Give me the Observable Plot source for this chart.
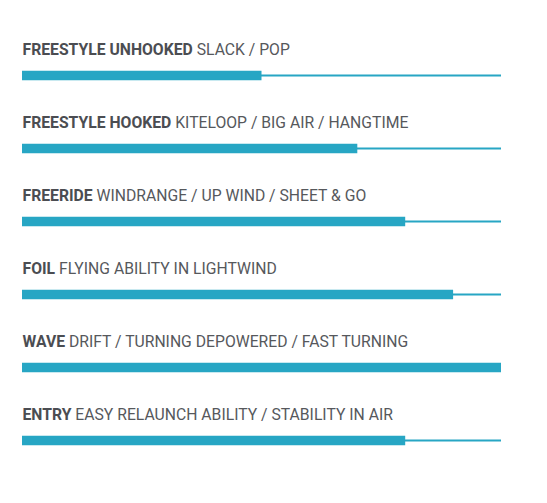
<!DOCTYPE html>
<html>
<head>
<meta charset="utf-8">
<script src="https://cdn.jsdelivr.net/npm/d3@7"></script>
<script src="https://cdn.jsdelivr.net/npm/@observablehq/plot@0.6"></script>
<style>
  html, body { margin: 0; padding: 0; background: #fff; }
  #chart svg { display: block; }
</style>
</head>
<body>
<div id="chart"></div>
<script>
const categories = ["FREESTYLE UNHOOKED", "FREESTYLE HOOKED", "FREERIDE", "FOIL", "WAVE", "ENTRY"];
const descriptors = [
  "SLACK / POP",
  "KITELOOP / BIG AIR / HANGTIME",
  "WINDRANGE / UP WIND / SHEET & GO",
  "FLYING ABILITY IN LIGHTWIND",
  "DRIFT / TURNING DEPOWERED / FAST TURNING",
  "EASY RELAUNCH ABILITY / STABILITY IN AIR"
];
const ratings = [5, 7, 8, 9, 10, 8];
const maxRating = 10;

const data = categories.map((name, i) => ({name, desc: descriptors[i], value: ratings[i]}));

const teal = "#27a6c4";
const compress = 0.925;
const fontSize = 17;

const chart = Plot.plot({
  width: 547,
  height: 503,
  marginLeft: 22,
  marginRight: 46,
  marginTop: 72.5,
  marginBottom: 61.5,
  style: {fontFamily: "Roboto, sans-serif", background: "#fff"},
  x: {domain: [0, maxRating], axis: null},
  y: {type: "point", domain: categories, padding: 0, axis: null},
  marks: [
    Plot.ruleY(data, {y: "name", x1: 0, x2: maxRating, stroke: teal, strokeWidth: 2}),
    Plot.ruleY(data, {y: "name", x1: 0, x2: "value", stroke: teal, strokeWidth: 9.5, strokeLinecap: "butt"}),
    Plot.text(data, {
      y: "name", x: 0, text: "name", dy: -26, textAnchor: "start",
      fontSize: fontSize, fontWeight: "bold", fill: "#4b4d52", className: "label"
    })
  ]
});

document.getElementById("chart").appendChild(chart);

// condense the bold category and add the descriptor, in normal weight, right after it
const space = 0.25 * fontSize * compress;
d3.select(chart).selectAll("g.label text").each(function(d, i) {
  const len = this.getComputedTextLength();
  this.setAttribute("textLength", len * compress);
  this.setAttribute("lengthAdjust", "spacingAndGlyphs");
  const x0 = +this.getAttribute("x") || 0;
  const t2 = this.cloneNode(false);
  t2.setAttribute("font-weight", "normal");
  t2.setAttribute("fill", "#56585c");
  t2.removeAttribute("textLength");
  t2.textContent = data[i].desc;
  t2.setAttribute("x", x0 + len * compress + space);
  this.parentNode.appendChild(t2);
  const len2 = t2.getComputedTextLength();
  t2.setAttribute("textLength", len2 * compress);
  t2.setAttribute("lengthAdjust", "spacingAndGlyphs");
});
</script>
</body>
</html>
